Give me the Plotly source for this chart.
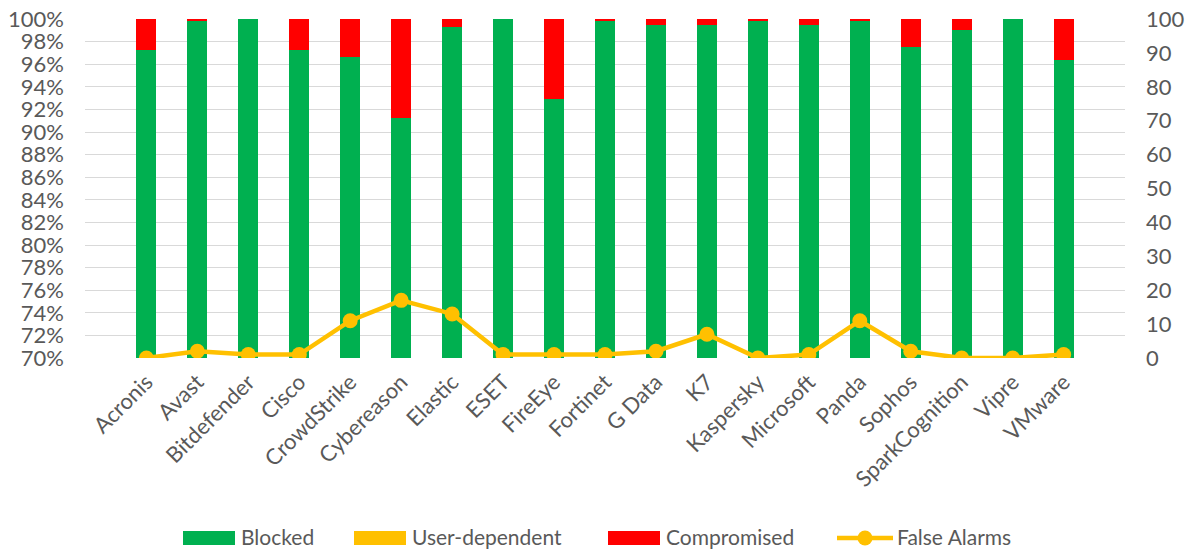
import plotly.graph_objects as go

vendors = ["Acronis", "Avast", "Bitdefender", "Cisco", "CrowdStrike", "Cybereason", "Elastic",
           "ESET", "FireEye", "Fortinet", "G Data", "K7", "Kaspersky", "Microsoft", "Panda",
           "Sophos", "SparkCognition", "Vipre", "VMware"]
blocked = [97.3, 99.8, 100.0, 97.3, 96.6, 91.2, 99.3, 100.0, 92.9, 99.8, 99.5, 99.5, 99.8, 99.5,
           99.8, 97.5, 99.0, 100.0, 96.4]
user_dependent = [0.0] * 19
compromised = [round(100.0 - b, 1) for b in blocked]
false_alarms = [0, 2, 1, 1, 11, 17, 13, 1, 1, 1, 2, 7, 0, 1, 11, 2, 0, 0, 1]

legend_names = ["Blocked", "User-dependent", "Compromised", "False Alarms"]
colors = {"Blocked": "#00B050", "User-dependent": "#FFC000", "Compromised": "#FF0000",
          "False Alarms": "#FFC000"}

FONT = "Lato, Carlito, Open Sans, sans-serif"
GREY = "#595959"
W, H = 1190, 550
L, R, T, B = 85, 65, 19, 192
PW, PH = W - L - R, H - T - B


def px(x):
    return (x - L) / PW


def py(y):
    return (H - B - y) / PH


fig = go.Figure()
fig.add_trace(go.Bar(x=vendors, y=[b / 100 for b in blocked], name=legend_names[0],
                     marker=dict(color=colors["Blocked"], line=dict(width=0))))
fig.add_trace(go.Bar(x=vendors, y=[u / 100 for u in user_dependent], name=legend_names[1],
                     marker=dict(color=colors["User-dependent"], line=dict(width=0))))
fig.add_trace(go.Bar(x=vendors, y=[c / 100 for c in compromised], name=legend_names[2],
                     marker=dict(color=colors["Compromised"], line=dict(width=0))))
fig.add_trace(go.Scatter(x=vendors, y=false_alarms, name=legend_names[3], yaxis="y2",
                         mode="lines+markers", line=dict(color=colors["False Alarms"], width=4.5),
                         marker=dict(color=colors["False Alarms"], size=15)))

# manual legend (Excel-style wide swatches)
shapes = []
annotations = []
legend_y = 538
text_y = 536.5
LEG_SIZE = 21
swatches = [("Blocked", 183, 235, 240), ("User-dependent", 354, 406, 411),
            ("Compromised", 608, 660, 665)]
for name, x0, x1, tx in swatches:
    shapes.append(dict(type="rect", xref="paper", yref="paper", x0=px(x0), x1=px(x1),
                       y0=py(legend_y + 7), y1=py(legend_y - 7), fillcolor=colors[name],
                       line=dict(width=0)))
    annotations.append(dict(text=name, xref="paper", yref="paper", x=px(tx), y=py(text_y),
                            xanchor="left", yanchor="middle", showarrow=False, borderpad=0,
                            font=dict(family=FONT, size=LEG_SIZE, color=GREY)))
shapes.append(dict(type="line", xref="paper", yref="paper", x0=px(837), x1=px(893),
                   y0=py(legend_y), y1=py(legend_y),
                   line=dict(color=colors["False Alarms"], width=4.5)))
shapes.append(dict(type="circle", xref="paper", yref="paper", x0=px(857.5), x1=px(872.5),
                   y0=py(legend_y + 7.5), y1=py(legend_y - 7.5),
                   fillcolor=colors["False Alarms"], line=dict(width=0)))
annotations.append(dict(text="False Alarms", xref="paper", yref="paper", x=px(896), y=py(text_y),
                        xanchor="left", yanchor="middle", showarrow=False, borderpad=0,
                        font=dict(family=FONT, size=LEG_SIZE, color=GREY)))

fig.update_layout(
    width=W, height=H,
    margin=dict(l=L, r=R, t=T, b=B),
    barmode="stack", bargap=0.605,
    plot_bgcolor="white", paper_bgcolor="white",
    font=dict(family=FONT, size=22, color=GREY),
    showlegend=False,
    xaxis=dict(tickangle=-45, tickfont=dict(size=22, color=GREY), showgrid=False,
               showline=False, ticks="", automargin=False, ticklabelstandoff=6),
    yaxis=dict(range=[0.7, 1.0], dtick=0.02, tickformat=".0%", showgrid=True,
               gridcolor="#d9d9d9", gridwidth=1.3, zeroline=False, ticks="",
               tickfont=dict(size=22, color=GREY), automargin=False, ticklabelstandoff=20),
    yaxis2=dict(range=[0, 100], dtick=10, overlaying="y", side="right", showgrid=False,
                zeroline=False, ticks="", tickfont=dict(size=22, color=GREY), automargin=False,
                ticklabelstandoff=20),
    shapes=shapes,
    annotations=annotations,
)

fig.write_html("out.html")
